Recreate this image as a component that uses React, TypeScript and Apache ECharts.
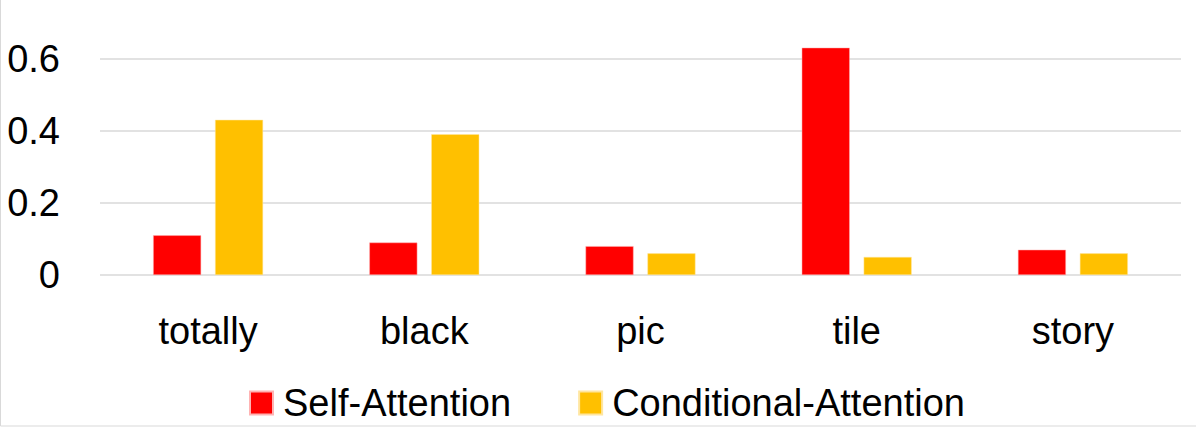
import React, { useEffect, useRef } from "react";
import * as echarts from "echarts";

const categories = ["totally", "black", "pic", "tile", "story"];
const selfAttention = [0.11, 0.09, 0.08, 0.63, 0.07];
const conditionalAttention = [0.43, 0.39, 0.06, 0.05, 0.06];
const seriesNames = ["Self-Attention", "Conditional-Attention"];

const FONT = "'Liberation Sans Narrow', sans-serif";

export default function App() {
  const ref = useRef<HTMLDivElement>(null);
  useEffect(() => {
    if (!ref.current) return;
    const chart = echarts.init(ref.current, undefined, { renderer: "svg" });
    chart.setOption({
      animation: false,
      backgroundColor: "#ffffff",
      grid: { left: 100, right: 15, top: 58.5, bottom: 153, containLabel: false },
      legend: {
        data: seriesNames,
        left: 244,
        top: 379,
        itemWidth: 23,
        itemHeight: 23,
        itemGap: 67,
        icon: "rect",
        textStyle: { fontFamily: FONT, fontSize: 38, color: "#000", padding: [0, 0, 0, 5] },
      },
      xAxis: {
        type: "category",
        data: categories,
        axisLine: { show: false },
        axisTick: { show: false },
        axisLabel: { fontFamily: FONT, fontSize: 38, color: "#000", margin: 37 },
      },
      yAxis: {
        type: "value",
        min: 0,
        max: 0.6,
        interval: 0.2,
        axisLine: { show: false },
        axisTick: { show: false },
        splitLine: { lineStyle: { color: "#d9d9d9", width: 1.5 } },
        axisLabel: {
          fontFamily: FONT,
          fontSize: 38,
          color: "#000",
          margin: 40,
          formatter: (v: number) => (v === 0 ? "0" : String(Math.round(v * 10) / 10)),
        },
      },
      series: [
        {
          name: seriesNames[0],
          type: "bar",
          data: selfAttention,
          barWidth: 48,
          barGap: "29%",
          clip: false,
          itemStyle: { color: "#ff0000", borderColor: "#ffb3b3", borderWidth: 0.5 },
        },
        {
          name: seriesNames[1],
          type: "bar",
          data: conditionalAttention,
          barWidth: 48,
          barGap: "29%",
          clip: false,
          itemStyle: { color: "#ffc000", borderColor: "#ffe6a0", borderWidth: 0.5 },
        },
      ],
      graphic: [
        {
          type: "rect",
          shape: { x: 0.5, y: -5, width: 1300, height: 431 },
          style: { fill: "none", stroke: "#d9d9d9", lineWidth: 1 },
          silent: true,
        },
      ],
    });
    return () => chart.dispose();
  }, []);
  return (
    <div
      ref={ref}
      style={{ position: "fixed", left: 0, top: 0, width: 1196, height: 428 }}
    />
  );
}
